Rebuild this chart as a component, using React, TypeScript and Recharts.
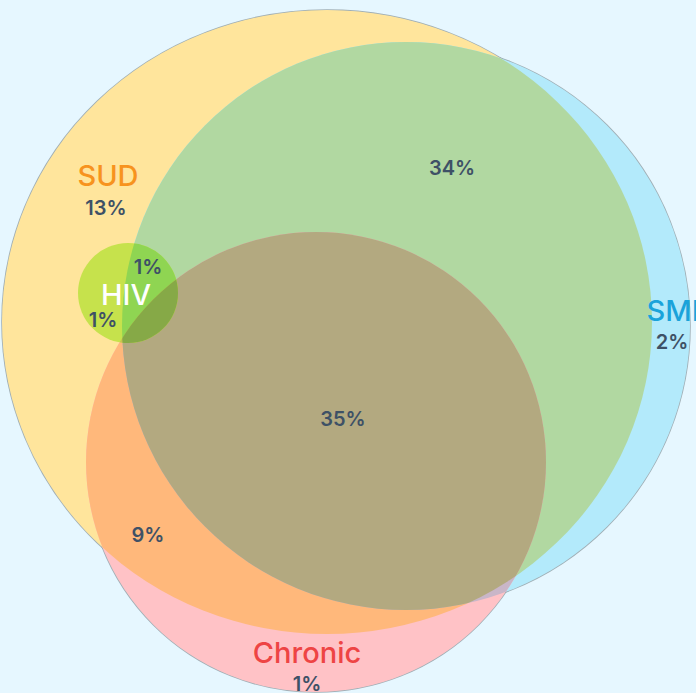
import React from 'react';
import { ScatterChart, Scatter, XAxis, YAxis } from 'recharts';

// ---- data ----
const setNames = ['SUD', 'SMI', 'Chronic', 'HIV'];
const setCenterX = [327, 406, 316, 128];
const setCenterY = [322, 326, 462, 293];
const setRadiusX = [325, 284, 230, 50];
const setRadiusY = [312, 284, 230, 50];

// regions (intersections of sets), drawn in this order
const regionSets: number[][] = [
  [0], [1], [2],
  [0, 1], [0, 2], [1, 2], [0, 1, 2],
  [3], [3, 1], [3, 2], [3, 1, 2],
];

const nameLabels = ['SUD', 'HIV', 'SMI', 'Chronic'];
const nameLabelX = [108, 126, 673, 307];
const nameLabelY = [175, 294, 310, 652];

const valueLabels = ['13%', '1%', '1%', '34%', '2%', '35%', '9%', '1%'];
const valueLabelX = [106, 148, 103, 452, 672, 343, 148, 307];
const valueLabelY = [208, 267, 320, 168, 342, 419, 535, 684];

// ---- styles ----
const W = 696;
const H = 693;
const X_DOMAIN: [number, number] = [0, 696];
const Y_DOMAIN: [number, number] = [0, 693];
const KX = W / (X_DOMAIN[1] - X_DOMAIN[0]);
const KY = H / (Y_DOMAIN[1] - Y_DOMAIN[0]);

const regionColors: Record<string, string> = {
  '0': '#FFE59C',
  '1': '#B3EAFB',
  '2': '#FFC2C6',
  '0-1': '#B1D8A1',
  '0-2': '#FFB87B',
  '1-2': '#C9B6C8',
  '0-1-2': '#B3A980',
  '3': '#C6E24C',
  '3-1': '#8FD552',
  '3-2': '#C8C050',
  '3-1-2': '#86A947',
};
const nameColors: Record<string, string> = {
  SUD: '#F7931E',
  HIV: '#FFFFFF',
  SMI: '#1AA3DA',
  Chronic: '#EE4444',
};
const valueColor = '#3E5166';
const FONT = 'Inter, "Noto Sans", sans-serif';

const regionData = regionSets.map((sets, i) => ({
  x: setCenterX[sets[0]],
  y: setCenterY[sets[0]],
  sets,
  idx: i,
}));
const baseData = [0, 1, 2].map((s) => ({ x: setCenterX[s], y: setCenterY[s], s }));
const nameData = nameLabels.map((t, i) => ({ x: nameLabelX[i], y: nameLabelY[i], t }));
const valueData = valueLabels.map((t, i) => ({ x: valueLabelX[i], y: valueLabelY[i], t }));

const OutlineShape = (props: any) => {
  const { cx, cy, payload } = props;
  return (
    <ellipse cx={cx} cy={cy} rx={setRadiusX[payload.s] * KX} ry={setRadiusY[payload.s] * KY}
      fill="none" stroke="#8E9CA3" strokeOpacity={0.8} strokeWidth={1.6} />
  );
};

const RegionShape = (props: any) => {
  const { cx, cy, payload } = props;
  const sets: number[] = payload.sets;
  const first = sets[0];
  const pos = (s: number) => ({
    x: cx + (setCenterX[s] - setCenterX[first]) * KX,
    y: cy + (setCenterY[s] - setCenterY[first]) * KY,
    rx: setRadiusX[s] * KX,
    ry: setRadiusY[s] * KY,
  });
  const key = sets.join('-');
  const color = regionColors[key];
  const defs = sets.slice(1).map((s) => {
    const p = pos(s);
    return (
      <clipPath id={`clip-${payload.idx}-${s}`} key={s}>
        <ellipse cx={p.x} cy={p.y} rx={p.rx} ry={p.ry} />
      </clipPath>
    );
  });
  let el: React.ReactNode = (
    <ellipse cx={cx} cy={cy} rx={setRadiusX[first] * KX} ry={setRadiusY[first] * KY} fill={color} />
  );
  sets.slice(1).forEach((s) => {
    el = <g clipPath={`url(#clip-${payload.idx}-${s})`}>{el}</g>;
  });
  return (
    <g>
      <defs>{defs}</defs>
      {el}
    </g>
  );
};

const NameShape = (props: any) => {
  const { cx, cy, payload } = props;
  return (
    <text x={cx} y={cy} textAnchor="middle" dominantBaseline="central" fontFamily={FONT}
      fontSize={29} fontWeight={500} fill={nameColors[payload.t]}>
      {payload.t}
    </text>
  );
};

const ValueShape = (props: any) => {
  const { cx, cy, payload } = props;
  return (
    <text x={cx} y={cy} textAnchor="middle" dominantBaseline="central" fontFamily={FONT}
      fontSize={20} fontWeight={600} fill={valueColor}>
      {payload.t}
    </text>
  );
};

export default function App() {
  return (
    <div style={{ position: 'absolute', left: 0, top: 0, width: W, height: H, background: '#E6F7FF', overflow: 'hidden' }}>
      <ScatterChart width={W} height={H} margin={{ top: 0, right: 0, bottom: 0, left: 0 }}>
        <XAxis type="number" dataKey="x" domain={X_DOMAIN} hide allowDataOverflow />
        <YAxis type="number" dataKey="y" domain={Y_DOMAIN} reversed hide allowDataOverflow />
        <Scatter data={baseData} shape={OutlineShape} isAnimationActive={false} />
        <Scatter data={regionData} shape={RegionShape} isAnimationActive={false} />
        <Scatter data={nameData} shape={NameShape} isAnimationActive={false} />
        <Scatter data={valueData} shape={ValueShape} isAnimationActive={false} />
      </ScatterChart>
    </div>
  );
}
